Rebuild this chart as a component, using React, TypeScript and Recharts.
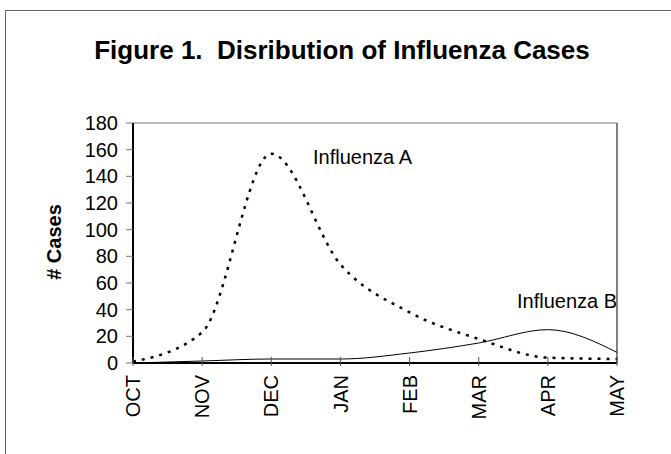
import React from "react"
import { LineChart, Line, XAxis, YAxis, ReferenceLine } from "recharts"

const months = ["OCT", "NOV", "DEC", "JAN", "FEB", "MAR", "APR", "MAY"]
const influenzaA = [1, 23, 157, 74, 38, 18, 4, 3]
const influenzaB = [0, 1.5, 3, 3, 7.5, 15, 25, 8]
const yTicks = [0, 20, 40, 60, 80, 100, 120, 140, 160, 180]

const FONT = "'Liberation Sans', Arial, sans-serif"

const data = months.map((m, i) => ({ month: m, a: influenzaA[i], b: influenzaB[i] }))

function MonthTick(props: any) {
  const { x, y, payload } = props
  return (
    <g>
      <line x1={x} x2={x} y1={y - 6} y2={y + 3} stroke="#555" strokeWidth={1} />
      <text
        x={x}
        y={y + 12}
        transform={`rotate(-90, ${x}, ${y + 12})`}
        textAnchor="end"
        dy="0.36em"
        fontSize={20}
        fontFamily={FONT}
        fill="#000"
      >
        {payload.value}
      </text>
    </g>
  )
}

export default function App() {
  return (
    <div style={{ position: "absolute", left: 0, top: 0, width: 671, height: 454, background: "#fff", overflow: "hidden", fontFamily: FONT }}>
      <div style={{ position: "absolute", left: 5, top: 10, width: 720, height: 520, border: "1px solid #666" }} />
      <div
        style={{
          position: "absolute", left: 0, top: 35, width: 684, textAlign: "center",
          fontSize: 26, fontWeight: "bold", whiteSpace: "pre", color: "#000",
        }}
      >
        {"Figure 1.  Disribution of Influenza Cases"}
      </div>
      <div
        style={{
          position: "absolute", left: 54, top: 242, transform: "translate(-50%, -50%) rotate(-90deg)",
          fontSize: 20, fontWeight: "bold", whiteSpace: "nowrap", color: "#000",
        }}
      >
        # Cases
      </div>
      <div style={{ position: "absolute", left: 313, top: 146, fontSize: 20, color: "#000" }}>Influenza A</div>
      <div style={{ position: "absolute", left: 517, top: 290, fontSize: 20, color: "#000" }}>Influenza B</div>
      <div style={{ position: "absolute", left: 0, top: 0 }}>
        <LineChart width={671} height={454} data={data} margin={{ top: 123, right: 54, bottom: 31, left: 63 }}>
          <ReferenceLine y={180} stroke="#777" strokeWidth={1} />
          <ReferenceLine x="MAY" stroke="#000" strokeWidth={1} />
          <XAxis
            dataKey="month"
            height={60}
            tickSize={0}
            tickMargin={0}
            tickLine={false}
            axisLine={{ stroke: "#000", strokeWidth: 2 }}
            tick={<MonthTick />}
            interval={0}
          />
          <YAxis
            width={70}
            domain={[0, 180]}
            ticks={yTicks}
            interval={0}
            tickSize={7}
            tickMargin={8}
            tickLine={{ stroke: "#777" }}
            axisLine={{ stroke: "#000", strokeWidth: 2 }}
            tick={{ fontSize: 20, fontFamily: FONT, fill: "#000" }}
          />
          <Line
            type="monotone"
            dataKey="b"
            stroke="#000"
            strokeWidth={1}
            dot={false}
            isAnimationActive={false}
          />
          <Line
            type="monotone"
            dataKey="a"
            stroke="#000"
            strokeWidth={2.5}
            strokeDasharray="3 6"
            dot={false}
            isAnimationActive={false}
          />
        </LineChart>
      </div>
    </div>
  )
}
